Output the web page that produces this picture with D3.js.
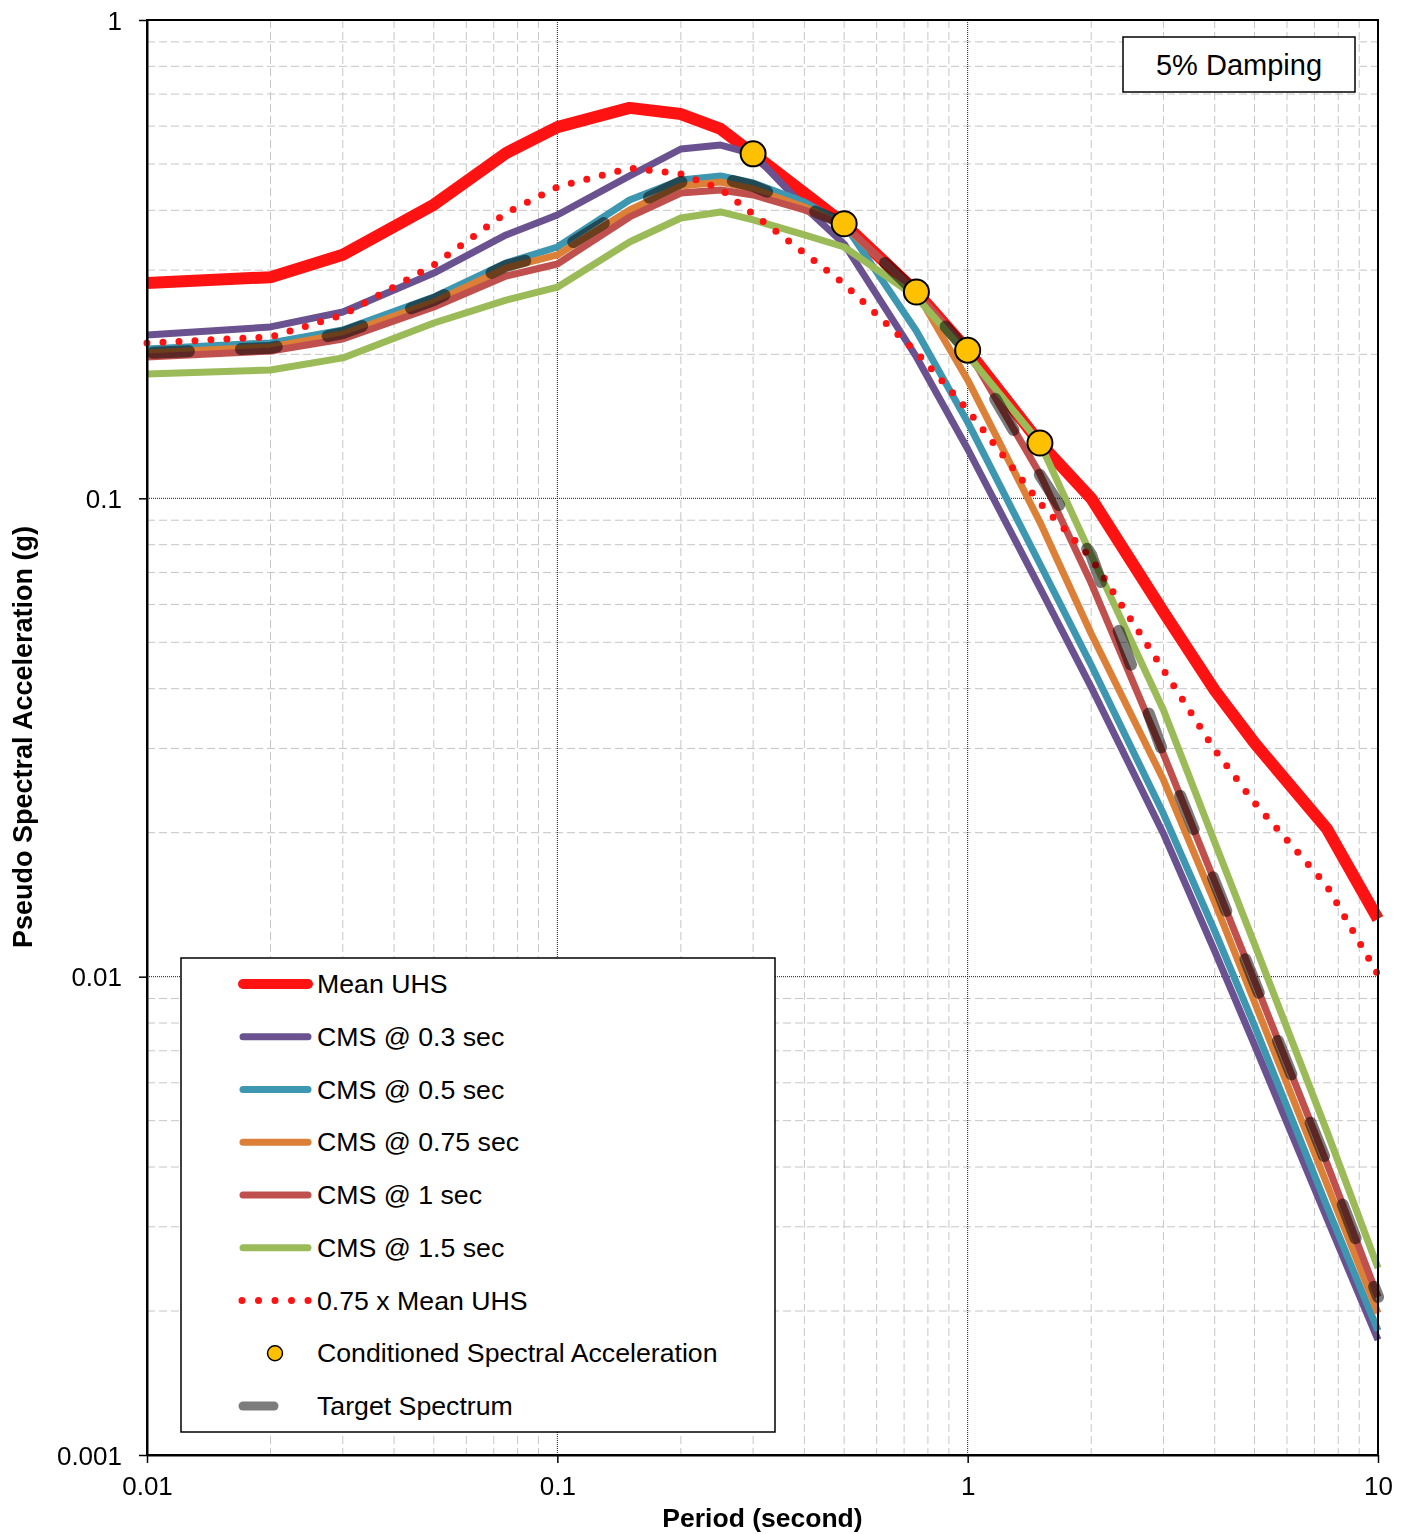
<!DOCTYPE html>
<html>
<head>
<meta charset="utf-8">
<script src="https://cdn.jsdelivr.net/npm/d3@7"></script>
<style>
  html, body { margin: 0; padding: 0; background: #ffffff; }
  svg { display: block; }
  text { font-family: "Liberation Sans", Arial, sans-serif; fill: #000; }
</style>
</head>
<body>
<script>
// ---------------- DATA ----------------
const periods = [0.01, 0.02, 0.03, 0.05, 0.075, 0.1, 0.15, 0.2, 0.25, 0.3, 0.4, 0.5, 0.75, 1, 1.5, 2, 3, 4, 5, 7.5, 10];

const meanUHS = [0.282, 0.290, 0.323, 0.411, 0.527, 0.597, 0.655, 0.636, 0.592, 0.525, 0.435, 0.375, 0.270, 0.204, 0.1305, 0.100, 0.0579, 0.0397, 0.0308, 0.0204, 0.0132];
const cms03   = [0.2195, 0.2282, 0.2452, 0.2958, 0.3553, 0.3912, 0.4721, 0.5374, 0.5478, 0.525, 0.4066, 0.3402, 0.1975, 0.1268, 0.0650, 0.0403, 0.0199, 0.01131, 0.0072, 0.00313, 0.00174];
const cms05   = [0.2053, 0.2113, 0.2249, 0.2635, 0.3105, 0.3353, 0.4205, 0.4629, 0.4721, 0.4563, 0.4165, 0.375, 0.2238, 0.1443, 0.0729, 0.0448, 0.0219, 0.01246, 0.0079, 0.00332, 0.00182];
const cms075  = [0.2013, 0.2073, 0.2206, 0.2572, 0.3031, 0.3227, 0.4008, 0.4497, 0.4585, 0.4433, 0.4066, 0.3711, 0.270, 0.1768, 0.0892, 0.0521, 0.0258, 0.0143, 0.00885, 0.00369, 0.00198];
const cms1    = [0.1975, 0.2033, 0.2154, 0.2512, 0.2916, 0.3090, 0.3875, 0.4349, 0.4412, 0.4307, 0.4008, 0.3729, 0.2699, 0.204, 0.1124, 0.0665, 0.0292, 0.0158, 0.0098, 0.00408, 0.00214];
const cms15   = [0.1820, 0.1855, 0.1966, 0.2326, 0.2597, 0.2763, 0.3435, 0.3856, 0.3969, 0.3820, 0.3553, 0.3353, 0.2635, 0.1994, 0.1305, 0.0761, 0.0361, 0.0191, 0.0117, 0.00476, 0.00246];
const uhs75   = [0.2113, 0.2174, 0.2417, 0.3075, 0.3950, 0.4476, 0.4904, 0.4767, 0.4433, 0.3931, 0.3258, 0.2807, 0.2023, 0.1530, 0.0978, 0.0750, 0.0438, 0.0298, 0.0231, 0.0155, 0.0101];
const target  = [0.2013, 0.2063, 0.2216, 0.2597, 0.3060, 0.3273, 0.4066, 0.4585, 0.4676, 0.4497, 0.4066, 0.375, 0.2686, 0.2023, 0.1119, 0.0761, 0.0292, 0.0158, 0.00975, 0.00408, 0.00214];

const csaPeriods = [0.3, 0.5, 0.75, 1, 1.5];
const csaValues  = [0.525, 0.375, 0.270, 0.204, 0.1305];

const xTickValues = [0.01, 0.1, 1, 10];
const xTickLabels = ["0.01", "0.1", "1", "10"];
const yTickValues = [0.001, 0.01, 0.1, 1];
const yTickLabels = ["0.001", "0.01", "0.1", "1"];

const legendLabels = ["Mean UHS", "CMS @ 0.3 sec", "CMS @ 0.5 sec", "CMS @ 0.75 sec", "CMS @ 1 sec", "CMS @ 1.5 sec", "0.75 x Mean UHS", "Conditioned Spectral Acceleration", "Target Spectrum"];
const xTitle = "Period (second)";
const yTitle = "Pseudo Spectral Acceleration (g)";
const noteText = "5% Damping";

// ---------------- LAYOUT ----------------
const W = 1408, H = 1534;
const L = 147, R = 1378, T = 20, B = 1455;

const svg = d3.select("body").append("svg").attr("width", W).attr("height", H);

const x = d3.scaleLog().domain([0.01, 10]).range([L, R]);
const y = d3.scaleLog().domain([0.001, 1]).range([B, T]);

// minor grid
const minorX = [], minorY = [];
[0.01, 0.1, 1].forEach(d => { for (let k = 2; k <= 9; k++) minorX.push(d * k); });
[0.001, 0.01, 0.1].forEach(d => { for (let k = 2; k <= 9; k++) minorY.push(d * k); });

const grid = svg.append("g");
grid.selectAll(".mx").data(minorX).join("line")
  .attr("x1", d => x(d)).attr("x2", d => x(d)).attr("y1", T).attr("y2", B)
  .attr("stroke", "#c6c6c6").attr("stroke-width", 1).attr("stroke-dasharray", "8,4");
grid.selectAll(".my").data(minorY).join("line")
  .attr("y1", d => y(d)).attr("y2", d => y(d)).attr("x1", L).attr("x2", R)
  .attr("stroke", "#c6c6c6").attr("stroke-width", 1).attr("stroke-dasharray", "8,4");
// major grid
grid.selectAll(".Mx").data([0.1, 1]).join("line")
  .attr("x1", d => x(d)).attr("x2", d => x(d)).attr("y1", T).attr("y2", B)
  .attr("stroke", "#1a1a1a").attr("stroke-width", 1).attr("stroke-dasharray", "1,1");
grid.selectAll(".My").data([0.01, 0.1]).join("line")
  .attr("y1", d => y(d)).attr("y2", d => y(d)).attr("x1", L).attr("x2", R)
  .attr("stroke", "#1a1a1a").attr("stroke-width", 1).attr("stroke-dasharray", "1,1");

// ---------------- SERIES ----------------
const line = d3.line().x((d, i) => x(periods[i])).y(d => y(d));
const plot = svg.append("g");

function addLine(vals, color, width, extra) {
  const p = plot.append("path").datum(vals)
    .attr("d", line).attr("fill", "none")
    .attr("stroke", color).attr("stroke-width", width)
    .attr("stroke-linejoin", "round").attr("stroke-linecap", "butt");
  if (extra) extra(p);
  return p;
}

const colors = {
  mean: "#ff1212",
  c03: "#6a5290",
  c05: "#3e97b0",
  c075: "#dc8038",
  c1: "#c0504d",
  c15: "#9bbb59",
  target: "#7c7c7c",
  csa: "#ffc000"
};

addLine(meanUHS, colors.mean, 12);
addLine(cms03, colors.c03, 7);
addLine(cms05, colors.c05, 7);
addLine(cms075, colors.c075, 7);
addLine(cms1, colors.c1, 7);
addLine(cms15, colors.c15, 7);
addLine(uhs75, colors.mean, 7, p => p.attr("stroke-dasharray", "0,16").attr("stroke-linecap", "round"));
addLine(target, colors.target, 12, p => p.attr("stroke-dasharray", "36,52").attr("stroke-dashoffset", -6)
  .attr("stroke-linecap", "round").style("mix-blend-mode", "multiply"));

plot.selectAll("circle.csa").data(csaValues).join("circle")
  .attr("class", "csa")
  .attr("cx", (d, i) => x(csaPeriods[i])).attr("cy", d => y(d)).attr("r", 12.5)
  .attr("fill", colors.csa).attr("stroke", "#000").attr("stroke-width", 2);

// ---------------- FRAME & AXES ----------------
svg.append("rect").attr("x", L).attr("y", T).attr("width", R - L).attr("height", B - T)
  .attr("fill", "none").attr("stroke", "#000").attr("stroke-width", 2);

const yAxis = d3.axisLeft(y).tickValues(yTickValues).tickFormat((d, i) => yTickLabels[i])
  .tickSize(8).tickPadding(17).tickSizeOuter(0);
const gy = svg.append("g").attr("transform", `translate(${L},0)`).call(yAxis);
const xAxis = d3.axisBottom(x).tickValues(xTickValues).tickFormat((d, i) => xTickLabels[i])
  .tickSize(8).tickPadding(14).tickSizeOuter(0);
const gx = svg.append("g").attr("transform", `translate(0,${B})`).call(xAxis);
[gx, gy].forEach(g => {
  g.select(".domain").attr("stroke", "#000").attr("stroke-width", 2);
  g.selectAll(".tick line").attr("stroke", "#000").attr("stroke-width", 1.5);
  g.selectAll(".tick text").attr("font-size", 26).attr("font-family", "Liberation Sans, Arial, sans-serif").attr("fill", "#000");
});
gy.selectAll(".tick text").attr("dy", "0.35em");

svg.append("text").attr("x", (L + R) / 2).attr("y", 1527).attr("text-anchor", "middle")
  .attr("font-size", 26.5).attr("font-weight", "bold").text(xTitle);
svg.append("text").attr("transform", "translate(32,737) rotate(-90)").attr("text-anchor", "middle")
  .attr("font-size", 27).attr("font-weight", "bold").text(yTitle);

// ---------------- NOTE BOX ----------------
svg.append("rect").attr("x", 1123).attr("y", 37).attr("width", 232).attr("height", 55)
  .attr("fill", "#fff").attr("stroke", "#000").attr("stroke-width", 1.5);
svg.append("text").attr("x", 1239).attr("y", 75).attr("text-anchor", "middle")
  .attr("font-size", 29).text(noteText);

// ---------------- LEGEND ----------------
const lg = svg.append("g");
lg.append("rect").attr("x", 181).attr("y", 958).attr("width", 594).attr("height", 474)
  .attr("fill", "#fff").attr("stroke", "#000").attr("stroke-width", 1.5);
const rowY = i => 984 + i * 52.75;
const sx1 = 240, sx2 = 311, tx = 317;
const legendStyles = [
  { c: colors.mean, w: 10 },
  { c: colors.c03, w: 7 },
  { c: colors.c05, w: 7 },
  { c: colors.c075, w: 7 },
  { c: colors.c1, w: 7 },
  { c: colors.c15, w: 7 },
  { c: colors.mean, w: 7, dots: true },
  { marker: true },
  { c: colors.target, w: 9, dash: true }
];
legendLabels.forEach((lab, i) => {
  const yy = rowY(i);
  const s = legendStyles[i];
  if (s.marker) {
    lg.append("circle").attr("cx", 275).attr("cy", yy).attr("r", 7.5)
      .attr("fill", colors.csa).attr("stroke", "#000").attr("stroke-width", 1.5);
  } else if (s.dots) {
    lg.append("line").attr("x1", sx1 + 2).attr("x2", sx2 - 2).attr("y1", yy).attr("y2", yy)
      .attr("stroke", s.c).attr("stroke-width", s.w).attr("stroke-linecap", "round")
      .attr("stroke-dasharray", "0,16.5");
  } else if (s.dash) {
    lg.append("line").attr("x1", sx1 + 3).attr("x2", 274).attr("y1", yy).attr("y2", yy)
      .attr("stroke", s.c).attr("stroke-width", s.w).attr("stroke-linecap", "round");
  } else {
    lg.append("line").attr("x1", sx1 + 3).attr("x2", sx2 - 3).attr("y1", yy).attr("y2", yy)
      .attr("stroke", s.c).attr("stroke-width", s.w).attr("stroke-linecap", "round");
  }
  lg.append("text").attr("x", tx).attr("y", yy + 9).attr("font-size", 26.7).text(lab);
});
</script>
</body>
</html>
